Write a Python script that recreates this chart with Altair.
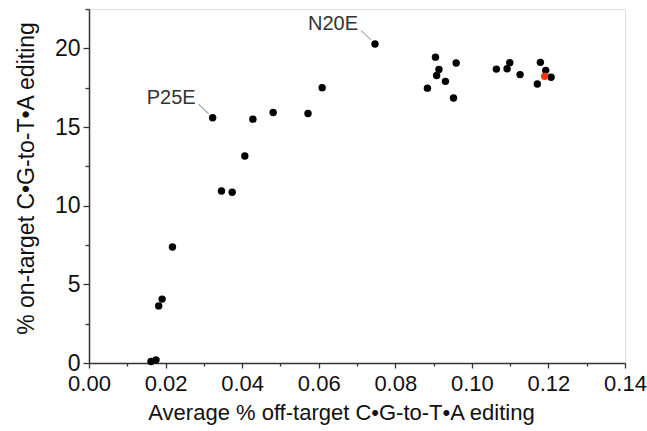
import altair as alt
import pandas as pd

# Average % off-target C•G-to-T•A editing (x) and % on-target editing (y)
x_vals = [0.0162, 0.0175, 0.0182, 0.0191, 0.0218, 0.0323, 0.0346, 0.0374,
          0.0407, 0.0428, 0.0481, 0.0572, 0.0609, 0.0747,
          0.0905, 0.0959, 0.0914, 0.0908, 0.0931, 0.0884, 0.0952,
          0.1064, 0.1099, 0.1092, 0.1126, 0.1179, 0.1193, 0.1207, 0.1171,
          0.1190]
y_vals = [0.10, 0.20, 3.63, 4.06, 7.37, 15.59, 10.93, 10.85,
          13.16, 15.50, 15.92, 15.86, 17.50, 20.28,
          19.44, 19.07, 18.66, 18.27, 17.90, 17.47, 16.84,
          18.68, 19.09, 18.70, 18.33, 19.11, 18.60, 18.16, 17.73,
          18.22]
groups = ["variant"] * 29 + ["highlight"]
labels = [""] * 30
labels[5] = "P25E"
labels[13] = "N20E"

x_major = [0.0, 0.02, 0.04, 0.06, 0.08, 0.10, 0.12, 0.14]
x_minor = [0.01, 0.03, 0.05, 0.07, 0.09, 0.11, 0.13]
y_major = [0, 5, 10, 15, 20]
y_minor = [2.5, 7.5, 12.5, 17.5, 22.5]

df = pd.DataFrame({"x": x_vals, "y": y_vals, "group": groups, "label": labels})
lab_df = df[df["label"] != ""]

FONT = "Liberation Sans"
xs = alt.Scale(domain=[0, 0.14], nice=False, zero=False)
ys = alt.Scale(domain=[0, 22.5], nice=False, zero=False)

x_axis = alt.Axis(values=x_major, format=".2f", tickSize=5, tickWidth=1.3,
                  domainWidth=1.5, domainColor="#333", tickColor="#333",
                  grid=False, labelFontSize=22, labelFont=FONT, labelColor="#111",
                  labelPadding=5, labelFlush=False, labelOverlap=False,
                  title="Average % off-target C•G-to-T•A editing",
                  titleFontSize=22, titleFont=FONT, titleFontWeight="normal",
                  titleColor="#111", titlePadding=8, titleX=252, orient="bottom")
y_axis = alt.Axis(values=y_major, tickSize=6, tickWidth=1.3,
                  domainWidth=1.5, domainColor="#333", tickColor="#333",
                  grid=False, labelFontSize=23, labelFont=FONT, labelColor="#111",
                  labelPadding=3, labelFlush=False, labelOverlap=False,
                  title="% on-target C•G-to-T•A editing",
                  titleFontSize=23, titleFont=FONT, titleFontWeight="normal",
                  titleColor="#111", titlePadding=16, titleY=169, orient="left")

x_minor_axis = alt.Axis(values=x_minor, tickSize=3, tickWidth=1.3, tickColor="#333",
                        domain=False, labels=False, grid=False, title=None, orient="bottom")
y_minor_axis = alt.Axis(values=y_minor, tickSize=4, tickWidth=1.3, tickColor="#333",
                        domain=False, labels=False, grid=False, title=None, orient="left")

minor = alt.Chart(df).mark_point(opacity=0).encode(
    x=alt.X("x:Q", scale=xs, axis=x_minor_axis),
    y=alt.Y("y:Q", scale=ys, axis=y_minor_axis),
)

points = alt.Chart(df).mark_circle(size=55, opacity=1).encode(
    x=alt.X("x:Q", scale=xs, axis=x_axis),
    y=alt.Y("y:Q", scale=ys, axis=y_axis),
    color=alt.Color("group:N", scale=alt.Scale(domain=["variant", "highlight"],
                                               range=["#000000", "#ff3300"]), legend=None),
)

leaders = alt.Chart(lab_df).mark_rule(color="#aaaaaa", strokeWidth=1.2,
                                      xOffset=-4, yOffset=-4,
                                      x2Offset=-14, y2Offset=-13.5).encode(
    x=alt.X("x:Q", scale=xs, axis=None), y=alt.Y("y:Q", scale=ys, axis=None),
    x2="x:Q", y2="y:Q",
)

texts = alt.Chart(lab_df).mark_text(align="right", baseline="alphabetic", dx=-17, dy=-13.5,
                                    fontSize=20, font=FONT, color="#333").encode(
    x=alt.X("x:Q", scale=xs, axis=None), y=alt.Y("y:Q", scale=ys, axis=None),
    text="label:N",
)

chart = alt.layer(minor, points, leaders, texts).resolve_axis(
    x="independent", y="independent"
).properties(
    width=536, height=354,
    autosize=alt.AutoSizeParams(type="none"),
    padding={"left": 89, "top": 9, "right": 22, "bottom": 68},
).configure_view(stroke=None).configure(background="white")

chart.save("out.html", embed_options={"renderer": "svg", "actions": False})
